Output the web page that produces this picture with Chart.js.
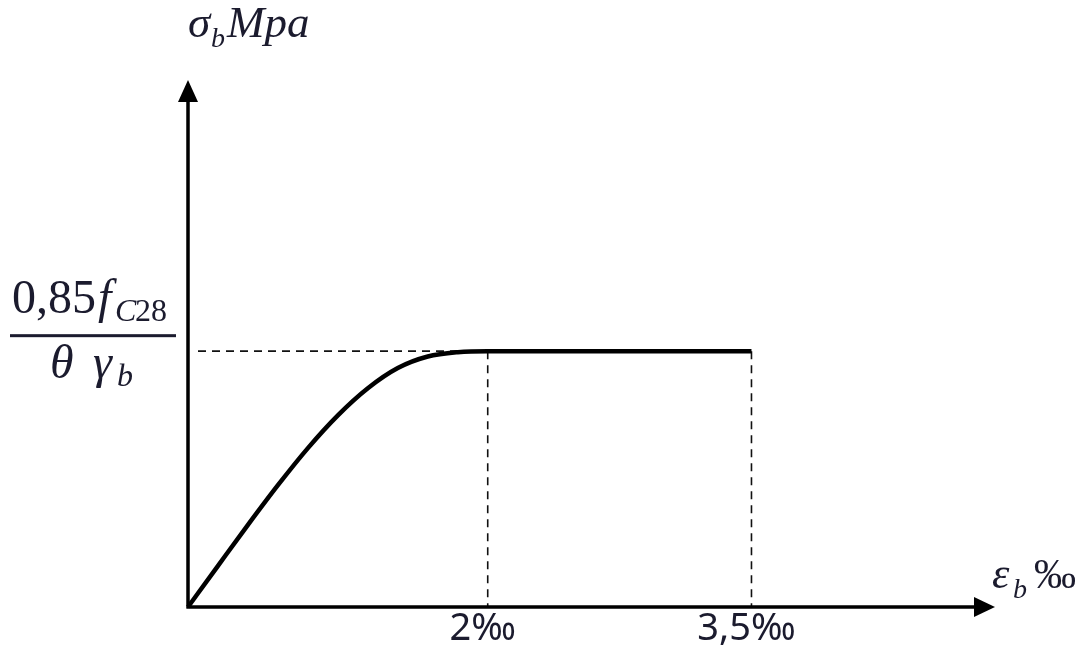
<!DOCTYPE html>
<html>
<head>
<meta charset="utf-8">
<script src="https://cdn.jsdelivr.net/npm/chart.js@4/dist/chart.umd.min.js"></script>
<style>
html,body{margin:0;padding:0;background:#fff;}
#wrap{width:1089px;height:645px;position:relative;}
</style>
</head>
<body>
<div id="wrap"><canvas id="c"></canvas></div>
<script>
// Schematic strain axis (drawing is not to scale): tick positions and labels
const tickValues = [2, 3.76];
const tickLabels = ['2‰', '3,5‰'];
// Stress–strain curve (stress normalised to plateau = 1)
const strain = [0, 0.2, 0.4, 0.6, 0.8, 1.0, 1.2, 1.4, 1.6, 1.8, 2, 3.76];
const stress = [0, 0.161, 0.321, 0.476, 0.621, 0.749, 0.855, 0.934, 0.979, 0.996, 1, 1];
const xMax = 5.385;
const yMax = 2.06;

const points = strain.map((x, i) => ({x: x, y: stress[i]}));

const ink = '#000';
const textInk = '#1b1b2e';

const axesPlugin = {
  id: 'axesPlugin',
  beforeDatasetsDraw(chart) {
    const ctx = chart.ctx;
    const xs = chart.scales.x, ys = chart.scales.y;
    const x0 = xs.getPixelForValue(0), y0 = ys.getPixelForValue(0);
    const yPlat = ys.getPixelForValue(1);
    ctx.save();
    // dashed guides
    ctx.strokeStyle = '#111';
    ctx.lineWidth = 1.6;
    ctx.setLineDash([8, 6]);
    ctx.beginPath();
    ctx.moveTo(x0 + 10, yPlat);
    ctx.lineTo(xs.getPixelForValue(tickValues[0]), yPlat);
    tickValues.forEach(v => {
      const px = xs.getPixelForValue(v);
      ctx.moveTo(px, yPlat);
      ctx.lineTo(px, y0);
    });
    ctx.stroke();
    ctx.setLineDash([]);
    // axes
    ctx.strokeStyle = ink;
    ctx.lineWidth = 3.5;
    ctx.lineCap = 'butt';
    const xEnd = xs.getPixelForValue(xMax);
    const yEnd = ys.getPixelForValue(yMax);
    ctx.beginPath();
    ctx.moveTo(x0 - 1.5, y0);
    ctx.lineTo(xEnd - 18, y0);
    ctx.moveTo(x0, y0 + 1.5);
    ctx.lineTo(x0, yEnd + 18);
    ctx.stroke();
    // arrow heads
    ctx.fillStyle = ink;
    ctx.beginPath();
    ctx.moveTo(xEnd, y0);
    ctx.lineTo(xEnd - 21, y0 - 10);
    ctx.lineTo(xEnd - 21, y0 + 10);
    ctx.closePath();
    ctx.fill();
    ctx.beginPath();
    ctx.moveTo(x0, yEnd);
    ctx.lineTo(x0 - 10, yEnd + 22);
    ctx.lineTo(x0 + 10, yEnd + 22);
    ctx.closePath();
    ctx.fill();
    ctx.restore();
  },
  afterDraw(chart) {
    const ctx = chart.ctx;
    const xs = chart.scales.x, ys = chart.scales.y;
    const y0 = ys.getPixelForValue(0);
    const yPlat = ys.getPixelForValue(1);
    ctx.save();
    ctx.fillStyle = textInk;
    ctx.textBaseline = 'alphabetic';
    // tick labels
    ctx.font = '38px "Noto Sans", sans-serif';
    ctx.textAlign = 'center';
    tickValues.forEach((v, i) => {
      ctx.fillText(tickLabels[i], xs.getPixelForValue(v) - 5, y0 + 33);
    });
    ctx.textAlign = 'left';
    // y-axis title: σb Mpa
    ctx.font = 'italic 45px "Liberation Serif", serif';
    ctx.fillText('σ', 188, 37);
    ctx.font = 'italic 28px "Liberation Serif", serif';
    ctx.fillText('b', 211, 47);
    ctx.font = 'italic 45px "Liberation Serif", serif';
    ctx.fillText('Mpa', 227, 37);
    // x-axis title: εb ‰
    ctx.font = 'italic 44px "Liberation Serif", serif';
    ctx.fillText('ε', 992, 588);
    ctx.font = 'italic 28px "Liberation Serif", serif';
    ctx.fillText('b', 1013, 598);
    ctx.font = '42px "Liberation Serif", serif';
    ctx.fillText('‰', 1034, 588);
    // fraction label for plateau
    ctx.font = '48px "Liberation Serif", serif';
    ctx.fillText('0,85', 12, 313);
    ctx.font = 'italic 48px "Liberation Serif", serif';
    ctx.fillText('f', 98, 313);
    ctx.font = 'italic 32px "Liberation Serif", serif';
    ctx.fillText('C', 115, 321);
    ctx.font = '32px "Liberation Serif", serif';
    ctx.fillText('28', 135, 321);
    ctx.fillRect(10, yPlat - 17, 166, 3);
    ctx.font = 'italic 48px "Liberation Serif", serif';
    ctx.fillText('θ', 50, 378);
    ctx.fillText('γ', 93, 378);
    ctx.font = 'italic 32px "Liberation Serif", serif';
    ctx.fillText('b', 117, 386);
    ctx.restore();
  }
};

new Chart(document.getElementById('c'), {
  type: 'scatter',
  data: {
    datasets: [{
      data: points,
      showLine: true,
      borderColor: ink,
      borderWidth: 4.5,
      pointRadius: 0,
      cubicInterpolationMode: 'monotone',
      fill: false,
      clip: false
    }]
  },
  options: {
    responsive: true,
    maintainAspectRatio: false,
    animation: false,
    layout: {padding: {left: 188, right: 94, top: 80, bottom: 38}},
    plugins: {legend: {display: false}, tooltip: {enabled: false}},
    scales: {
      x: {type: 'linear', min: 0, max: xMax, display: false},
      y: {type: 'linear', min: 0, max: yMax, display: false}
    }
  },
  plugins: [axesPlugin]
});
</script>
</body>
</html>
